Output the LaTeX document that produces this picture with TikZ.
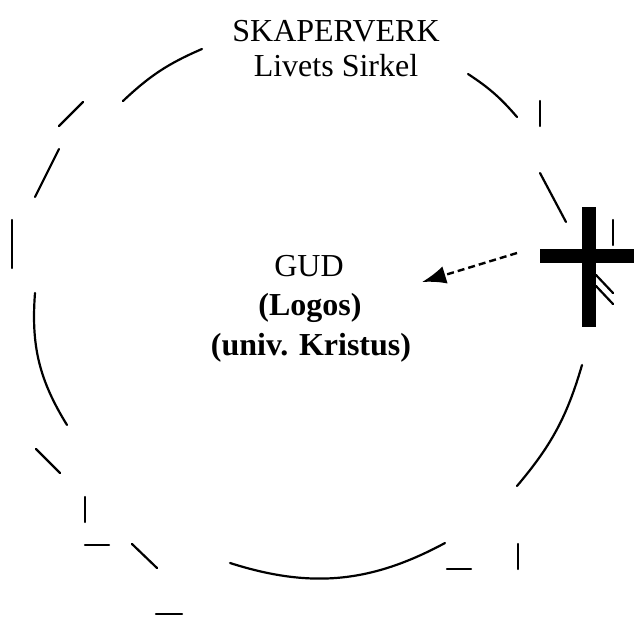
\documentclass[tikz,border=0pt]{standalone}
\usepackage{fontspec}
\setmainfont{Liberation Serif}
\usetikzlibrary{arrows.meta}

\begin{document}
\begin{tikzpicture}[x=1pt, y=-1pt, line width=2.2pt, line cap=round,
    every node/.style={inner sep=0pt, anchor=base, font=\fontsize{32}{38}\selectfont}]
    \useasboundingbox (0,0) rectangle (634,617);
    % the broken circle: its longer curved pieces
    \draw (123,101) to[bend left=10] (202,49);
    \draw (468,74) to[bend left=8] (517,117);
    \draw (582,365) to[bend left=12] (517,486);
    \draw (445,543) to[bend left=23] (230,563);
    \draw (67,425) to[bend left=18] (35,293);
    % and its short straight strokes
    \foreach \xa/\ya/\xb/\yb in {35/197/59/149, 59/126/83/102, 540/101/540/126,
            540/173/566/222, 613/220/613/245, 596/275/613/293, 596/286/613/304,
            518/544/518/569, 447/569/471/569, 157/568/132/544, 85/545/109/545,
            85/497/85/522, 60/473/36/449, 12/220/12/268, 156/614/182/614}
        \draw (\xa,\ya) -- (\xb,\yb);
    % the cross on the rim
    \fill (582,207) rectangle (596,327);
    \fill (540,249) rectangle (634,263);
    \node (skaperverk) at (336,42) {SKAPERVERK};
    \node (sirkel) at (336,77) {Livets Sirkel};
    \node (gud) at (309,277) {GUD};
    \node (logos) at (310,316) {\bfseries (Logos)};
    \node (kristus) at (311,355) {\bfseries (univ. Kristus)};
    \coordinate (crossarm) at (517,253);
    \coordinate (centre) at (422,282);
    \draw[line width=2.4pt, dash pattern=on 7pt off 4pt, line cap=butt,
        -{Latex[length=24pt, width=18pt]}] (crossarm) -- (centre);
\end{tikzpicture}
\end{document}
